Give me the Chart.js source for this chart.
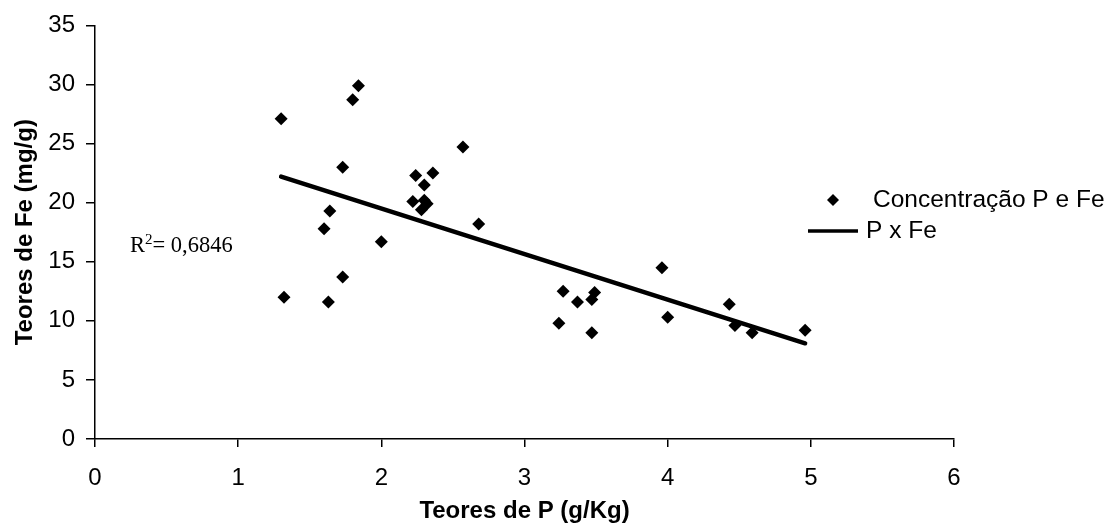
<!DOCTYPE html>
<html>
<head>
<meta charset="utf-8">
<script src="https://cdn.jsdelivr.net/npm/chart.js@4.4.0/dist/chart.umd.min.js"></script>
<style>
  html, body { margin: 0; padding: 0; background: #fff; }
  #wrap { width: 1111px; height: 528px; }
</style>
</head>
<body>
<div id="wrap"><canvas id="myChart1" width="1111" height="528"></canvas></div>
<script>
// dados
var teorP  = [1.30, 1.84, 1.80, 1.73, 2.57, 2.24, 2.36, 2.30, 2.22, 2.30, 2.28, 2.32,
              1.64, 1.60, 2.00, 2.68, 1.73, 1.32, 1.63, 3.96, 3.27, 3.49, 3.37, 3.47,
              3.24, 3.47, 4.00, 4.43, 4.47, 4.59, 4.96];
var teorFe = [27.1, 29.9, 28.7, 23.0, 24.7, 22.3, 22.5, 21.5, 20.1, 20.2, 19.4, 19.9,
              19.3, 17.8, 16.7, 18.2, 13.7, 12.0, 11.6, 14.5, 12.5, 12.4, 11.6, 11.8,
              9.8, 9.0, 10.3, 11.4, 9.6, 9.0, 9.2];
var linhaX = [1.30, 4.96];
var linhaY = [22.2, 8.1];
var xTicks = [0, 1, 2, 3, 4, 5, 6];
var yTicks = [0, 5, 10, 15, 20, 25, 30, 35];
var r2Text = "0,6846";

var sans = "'Liberation Sans', Arial, sans-serif";
var serif = "'Liberation Serif', 'Times New Roman', serif";

var pontos = teorP.map(function (x, i) { return { x: x, y: teorFe[i] }; });
var linha = linhaX.map(function (x, i) { return { x: x, y: linhaY[i] }; });

// legenda e R2 desenhados a mao
var extras = {
  id: 'extras',
  afterDraw: function (chart) {
    var ctx = chart.ctx;
    ctx.save();
    ctx.fillStyle = '#000';
    ctx.strokeStyle = '#000';
    // losango da legenda
    ctx.beginPath();
    ctx.moveTo(833, 194); ctx.lineTo(839, 200); ctx.lineTo(833, 206); ctx.lineTo(827, 200);
    ctx.closePath(); ctx.fill();
    ctx.font = '24.5px ' + sans;
    ctx.textBaseline = 'middle';
    ctx.textAlign = 'left';
    ctx.fillText('Concentração P e Fe', 873, 200);
    ctx.lineWidth = 3.5;
    ctx.beginPath(); ctx.moveTo(808, 231); ctx.lineTo(858, 231); ctx.stroke();
    ctx.fillText('P x Fe', 866, 231);
    // R2
    ctx.textBaseline = 'alphabetic';
    ctx.font = '22.5px ' + serif;
    ctx.fillText('R', 130, 252);
    var w = ctx.measureText('R').width;
    ctx.font = '15px ' + serif;
    ctx.fillText('2', 130 + w, 244);
    var w2 = ctx.measureText('2').width;
    ctx.font = '22.5px ' + serif;
    ctx.fillText('= ' + r2Text, 130 + w + w2, 252);
    ctx.restore();
  }
};

var ctx = document.getElementById("myChart1").getContext('2d');
var myChart = new Chart(ctx, {
  type: 'scatter',
  data: {
    datasets: [{
      label: 'Concentração P e Fe',
      data: pontos,
      pointStyle: 'rectRot',
      pointRadius: 6.5,
      pointHoverRadius: 6.5,
      backgroundColor: '#000',
      borderColor: '#000',
      borderWidth: 0
    }, {
      label: 'P x Fe',
      data: linha,
      showLine: true,
      borderColor: '#000',
      borderWidth: 4.5,
      borderCapStyle: 'round',
      pointRadius: 0,
      fill: false
    }]
  },
  options: {
    responsive: false,
    animation: false,
    layout: { padding: { top: 23, right: 157, left: 0, bottom: 0 } },
    plugins: { legend: { display: false }, tooltip: { enabled: false } },
    scales: {
      x: {
        type: 'linear', min: 0, max: 6,
        afterBuildTicks: function (s) { s.ticks = xTicks.map(function (v) { return { value: v }; }); },
        afterFit: function (s) { s.height = 89; },
        grid: { display: true, drawOnChartArea: false, drawTicks: true, tickLength: 8, color: '#000', lineWidth: 1.5 },
        border: { display: true, color: '#000', width: 1.5 },
        ticks: { color: '#000', font: { family: sans, size: 24 }, padding: 17 },
        title: { display: true, text: 'Teores de P (g/Kg)', color: '#000',
                 font: { family: sans, size: 24, weight: 'bold' }, padding: { top: 2, bottom: 2 } }
      },
      y: {
        type: 'linear', min: 0, max: 35,
        afterBuildTicks: function (s) { s.ticks = yTicks.map(function (v) { return { value: v }; }); },
        afterFit: function (s) { s.width = 95; },
        grid: { display: true, drawOnChartArea: false, drawTicks: true, tickLength: 9, color: '#000', lineWidth: 1.5 },
        border: { display: true, color: '#000', width: 1.5 },
        ticks: { color: '#000', font: { family: sans, size: 24 }, padding: 11 },
        title: { display: true, text: 'Teores de Fe (mg/g)', color: '#000',
                 font: { family: sans, size: 24, weight: 'bold' }, padding: { top: 10.5, bottom: 10.5 } }
      }
    }
  },
  plugins: [extras]
});
</script>
</body>
</html>
